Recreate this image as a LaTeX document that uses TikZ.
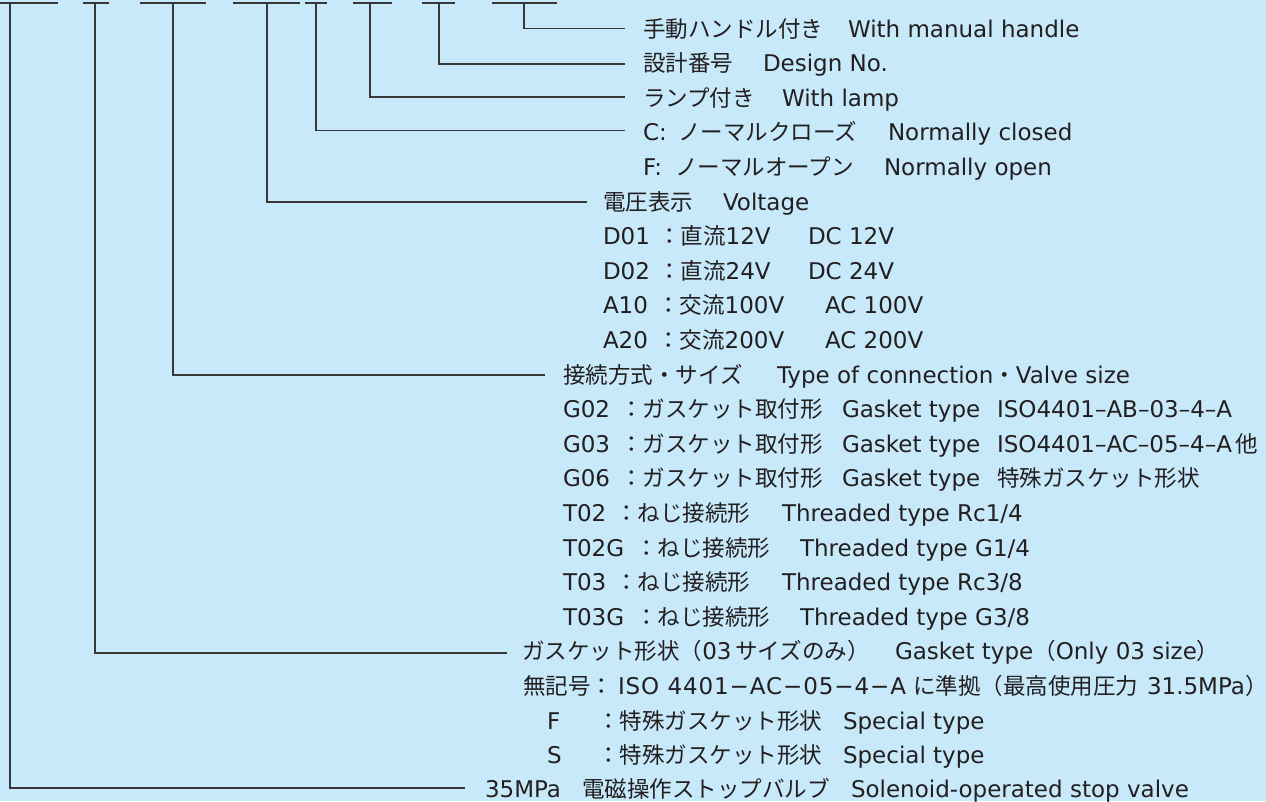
\documentclass[tikz,border=0pt]{standalone}
\usepackage{fontspec}
\setmainfont{DejaVu Sans}
\newfontfamily\jpf[Scale=0.98]{Noto Sans CJK JP}
\newfontfamily\widef[LetterSpace=4]{DejaVu Sans}
\newcommand\jtx[1]{{\jpf #1}}
\definecolor{bg}{RGB}{199,233,249}
\definecolor{ink}{RGB}{35,31,32}
\definecolor{wirec}{RGB}{55,55,55}
\begin{document}
\begin{tikzpicture}[x=1pt,y=-1pt,font=\fontsize{23}{28}\selectfont,
  lab/.style={anchor=base west,inner sep=0pt,outer sep=0pt,text=ink},
  wire/.style={draw=wirec,line width=1.4pt}]
\fill[bg] (0,0) rectangle (1266,801);
\useasboundingbox (0,0) rectangle (1266,801);
% connectors
\foreach \i/\l/\r/\v/\ey/\ex in {1/0/58/10/788/465, 2/83/109/95/653/507, 3/140/206/173/375/545, 4/233/300/267/202/587, 5/305/327/316/130.5/625, 6/353/392/370/97/625, 7/422/455/439/64/625, 8/492/557/524/28.5/625}{
  \coordinate (bl\i) at (\l,3);
  \coordinate (br\i) at (\r,3);
  \coordinate (bv\i) at (\v,3);
  \coordinate (be\i) at (\ex,\ey);
  \draw[wire] (bl\i) -- (br\i);
  \draw[wire] (bv\i) |- (be\i);
}
% row 1-3
\node[lab] (r1j) at (643,37) {\jtx{手動ハンドル付き}};
\node[lab] (r1e) at (848,37) {With manual handle};
\node[lab] (r2j) at (643,71.6) {\jtx{設計番号}};
\node[lab] (r2e) at (763,71.6) {Design No.};
\node[lab] (r3j) at (643,106.2) {\jtx{ランプ付き}};
\node[lab] (r3e) at (782,106.2) {With lamp};
% row 4-5
\node[lab] (r4c) at (643,140.8) {C:};
\node[lab] (r4j) at (678,140.8) {\jtx{ノーマルクローズ}};
\node[lab] (r4e) at (888,140.8) {Normally closed};
\node[lab] (r5c) at (643,175.4) {F:};
\node[lab] (r5j) at (675,175.4) {\jtx{ノーマルオープン}};
\node[lab] (r5e) at (884,175.4) {Normally open};
% row 6-10
\node[lab] (r6j) at (603,210) {\jtx{電圧表示}};
\node[lab] (r6e) at (723,210) {Voltage};
\node[lab] (r7c) at (603,244.6) {D01};
\node[lab] (r7j) at (658,244.6) {\jtx{：直流}12V};
\node[lab] (r7e) at (808,244.6) {DC 12V};
\node[lab] (r8c) at (603,279.2) {D02};
\node[lab] (r8j) at (658,279.2) {\jtx{：直流}24V};
\node[lab] (r8e) at (808,279.2) {DC 24V};
\node[lab] (r9c) at (603,313.8) {A10};
\node[lab] (r9j) at (657,313.8) {\jtx{：交流}100V};
\node[lab] (r9e) at (825,313.8) {AC 100V};
\node[lab] (r10c) at (603,348.4) {A20};
\node[lab] (r10j) at (657,348.4) {\jtx{：交流}200V};
\node[lab] (r10e) at (825,348.4) {AC 200V};
% row 11-18
\node[lab] (r11j) at (563,383) {\jtx{接続方式・サイズ}};
\node[lab] (r11e) at (777,383) {Type of connection\jtx{・}Valve size};
\node[lab] (r12c) at (563,417.6) {G02};
\node[lab] (r12j) at (620,417.6) {\jtx{：ガスケット取付形}};
\node[lab] (r12e) at (842,417.6) {Gasket type};
\node[lab] (r12s) at (997,417.6) {ISO4401–AB–03–4–A};
\node[lab] (r13c) at (563,452.2) {G03};
\node[lab] (r13j) at (620,452.2) {\jtx{：ガスケット取付形}};
\node[lab] (r13e) at (842,452.2) {Gasket type};
\node[lab] (r13s) at (997,452.2) {ISO4401–AC–05–4–A\,\jtx{他}};
\node[lab] (r14c) at (563,486.8) {G06};
\node[lab] (r14j) at (620,486.8) {\jtx{：ガスケット取付形}};
\node[lab] (r14e) at (842,486.8) {Gasket type};
\node[lab] (r14s) at (997,486.8) {\jtx{特殊ガスケット形状}};
\node[lab] (r15c) at (563,521.4) {T02};
\node[lab] (r15j) at (615,521.4) {\jtx{：ねじ接続形}};
\node[lab] (r15e) at (782,521.4) {Threaded type Rc1/4};
\node[lab] (r16c) at (563,556) {T02G};
\node[lab] (r16j) at (635,556) {\jtx{：ねじ接続形}};
\node[lab] (r16e) at (800,556) {Threaded type G1/4};
\node[lab] (r17c) at (563,590.6) {T03};
\node[lab] (r17j) at (615,590.6) {\jtx{：ねじ接続形}};
\node[lab] (r17e) at (782,590.6) {Threaded type Rc3/8};
\node[lab] (r18c) at (563,625.2) {T03G};
\node[lab] (r18j) at (635,625.2) {\jtx{：ねじ接続形}};
\node[lab] (r18e) at (800,625.2) {Threaded type G3/8};
% row 19-22
\node[lab] (r19j) at (522,659.8) {\jtx{ガスケット形状（}03\,\jtx{サイズのみ）}};
\node[lab] (r19e) at (895,659.8) {Gasket type\jtx{（}Only 03 size\jtx{）}};
\node[lab] (r20j) at (523,694.4) {\jtx{無記号：}};
\node[lab] (r20s) at (618,694.4) {\widef ISO 4401−AC−05−4−A};
\node[lab] (r20k) at (913,694.4) {\jtx{に準拠（最高使用圧力}};
\node[lab] (r20p) at (1147,694.4) {31.5MPa\jtx{）}};
\node[lab] (r21c) at (547,729) {F};
\node[lab] (r21j) at (597,729) {\jtx{：特殊ガスケット形状}};
\node[lab] (r21e) at (843,729) {Special type};
\node[lab] (r22c) at (547,763.6) {S};
\node[lab] (r22j) at (597,763.6) {\jtx{：特殊ガスケット形状}};
\node[lab] (r22e) at (843,763.6) {Special type};
% row 23
\node[lab] (r23c) at (485,797.5) {35MPa};
\node[lab] (r23j) at (582,797.5) {\jtx{電磁操作ストップバルブ}};
\node[lab] (r23e) at (851,797.5) {Solenoid-operated stop valve};
\end{tikzpicture}
\end{document}
